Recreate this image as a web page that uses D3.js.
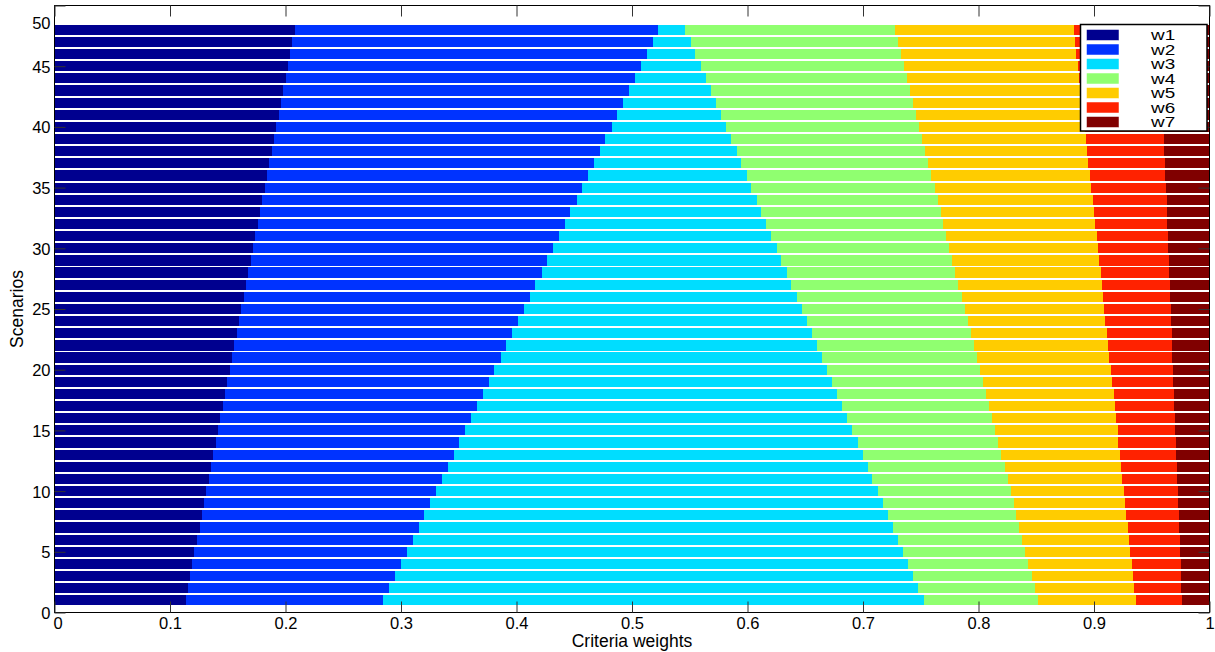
<!DOCTYPE html>
<html>
<head>
<meta charset="utf-8">
<script src="https://cdn.jsdelivr.net/npm/d3@7"></script>
<style>
  html, body { margin: 0; padding: 0; background: #fff; }
  svg { display: block; }
  text { font-family: "Liberation Sans", Arial, Helvetica, sans-serif; fill: #000; }
</style>
</head>
<body>
<svg id="chart" width="1215" height="652"></svg>
<script>
// Criteria weight vectors for scenarios 1..48 (each row sums to 1)
const scenarios = d3.range(1, 49);
const seriesNames = ["w1", "w2", "w3", "w4", "w5", "w6", "w7"];
const seriesColors = ["#00008f", "#0033ff", "#00ddff", "#90ff70", "#ffcc00", "#ff2200", "#800000"];

const w1 = [.1135,.1155,.1175,.1193,.1212,.1236,.1256,.1276,.1296,.1314,.1334,.1354,.1374,.1394,.1418,.1435,.1455,.1476,.1496,.1516,.1539,.1556,.1576,.1597,.1617,.1637,.1657,.1677,.1700,.1718,.1738,.1761,.1781,.1798,.1819,.1842,.1859,.1879,.1902,.1920,.1940,.1960,.1980,.2000,.2021,.2041,.2058,.2081];
const w2 = [.1711,.1745,.1777,.1808,.1841,.1867,.1901,.1927,.1959,.1990,.2022,.2051,.2086,.2109,.2140,.2172,.2204,.2232,.2264,.2290,.2325,.2354,.2386,.2420,.2446,.2481,.2504,.2542,.2565,.2602,.2628,.2660,.2686,.2724,.2749,.2780,.2810,.2845,.2868,.2905,.2931,.2963,.2997,.3026,.3057,.3087,.3122,.3144];
const w3 = [.4679,.4576,.4480,.4388,.4296,.4200,.4105,.4013,.3918,.3826,.3722,.3638,.3540,.3451,.3346,.3257,.3159,.3069,.2971,.2885,.2781,.2692,.2596,.2498,.2406,.2310,.2218,.2123,.2028,.1935,.1840,.1739,.1653,.1558,.1465,.1371,.1278,.1183,.1087,.0992,.0900,.0802,.0707,.0612,.0520,.0420,.0328,.0237];
const w4 = [.0989,.1009,.1027,.1041,.1055,.1075,.1088,.1110,.1133,.1148,.1174,.1183,.1197,.1217,.1238,.1252,.1272,.1287,.1304,.1324,.1341,.1358,.1376,.1393,.1411,.1426,.1445,.1456,.1479,.1489,.1515,.1532,.1552,.1566,.1587,.1598,.1618,.1629,.1656,.1667,.1687,.1707,.1725,.1743,.1757,.1781,.1795,.1814];
const w5 = [.0846,.0862,.0877,.0895,.0909,.0926,.0943,.0952,.0964,.0980,.0989,.1006,.1027,.1041,.1062,.1073,.1088,.1108,.1119,.1128,.1145,.1163,.1177,.1189,.1208,.1223,.1241,.1259,.1270,.1287,.1301,.1315,.1327,.1344,.1356,.1373,.1385,.1405,.1417,.1434,.1449,.1464,.1475,.1491,.1503,.1517,.1534,.1550];
const w6 = [.0400,.0407,.0416,.0427,.0433,.0439,.0441,.0454,.0456,.0465,.0479,.0485,.0490,.0496,.0498,.0509,.0516,.0518,.0533,.0540,.0548,.0552,.0560,.0570,.0576,.0582,.0590,.0595,.0606,.0612,.0617,.0629,.0633,.0638,.0646,.0655,.0664,.0667,.0675,.0683,.0690,.0697,.0705,.0713,.0723,.0731,.0736,.0743];
const w7 = [.0240,.0246,.0248,.0248,.0254,.0257,.0266,.0268,.0274,.0277,.0280,.0283,.0286,.0292,.0298,.0302,.0306,.0310,.0313,.0317,.0321,.0325,.0329,.0333,.0336,.0341,.0345,.0348,.0352,.0357,.0361,.0364,.0368,.0372,.0378,.0381,.0386,.0392,.0395,.0399,.0403,.0407,.0411,.0415,.0419,.0423,.0427,.0431];

const xTicks = [0, 0.1, 0.2, 0.3, 0.4, 0.5, 0.6, 0.7, 0.8, 0.9, 1];
const yTicks = [0, 5, 10, 15, 20, 25, 30, 35, 40, 45, 50];

const seriesValues = [w1, w2, w3, w4, w5, w6, w7];
const rows = scenarios.map((s, i) => {
  const r = { scenario: s };
  seriesNames.forEach((k, j) => { r[k] = seriesValues[j][i]; });
  return r;
});

const svg = d3.select("#chart");
const plotLeft = 54.5, plotRight = 1209.5, plotTop = 5.5, plotBottom = 612.5;

const x = d3.scaleLinear().domain([0, 1]).range([plotLeft, plotRight]);
const y = d3.scaleLinear().domain([0, 50]).range([plotBottom, plotTop]);
const barWidth = 0.84; // in scenario units

const stacked = d3.stack().keys(seriesNames)(rows);

const plot = svg.append("g");
plot.selectAll("g.series")
  .data(stacked)
  .join("g")
  .attr("class", "series")
  .attr("fill", (d, i) => seriesColors[i])
  .selectAll("rect")
  .data(d => d)
  .join("rect")
  .attr("x", d => x(d[0]))
  .attr("width", d => x(d[1]) - x(d[0]))
  .attr("y", d => y(d.data.scenario + barWidth / 2))
  .attr("height", d => y(d.data.scenario - barWidth / 2) - y(d.data.scenario + barWidth / 2))
  .attr("shape-rendering", "crispEdges");

// Axes box with inward ticks on all four sides
const tickLen = 11;
const tickFont = 16.5;
const axes = svg.append("g").attr("stroke", "#000").attr("stroke-width", 1).attr("fill", "none");
axes.append("rect")
  .attr("x", plotLeft).attr("y", plotTop)
  .attr("width", plotRight - plotLeft).attr("height", plotBottom - plotTop);

const xAxisBottom = d3.axisBottom(x).tickValues(xTicks).tickSizeInner(-tickLen).tickSizeOuter(0)
  .tickFormat(d => d === 0 || d === 1 ? d3.format("d")(d) : d3.format(".1f")(d));
const gxb = svg.append("g").attr("transform", `translate(0,${plotBottom})`).call(xAxisBottom);
gxb.select(".domain").remove();
gxb.selectAll("line").attr("stroke", "#333");
gxb.selectAll("text").attr("font-size", tickFont).attr("dy", "0.75em").attr("y", 4.5);
gxb.selectAll(".tick").filter(d => d === 0).select("text").attr("x", 3);

const gxt = svg.append("g").attr("transform", `translate(0,${plotTop})`)
  .call(d3.axisTop(x).tickValues(xTicks).tickSizeInner(-tickLen).tickSizeOuter(0).tickFormat(""));
gxt.select(".domain").remove();
gxt.selectAll("line").attr("stroke", "#333");

const gyl = svg.append("g").attr("transform", `translate(${plotLeft},0)`)
  .call(d3.axisLeft(y).tickValues(yTicks).tickSizeInner(-tickLen).tickSizeOuter(0));
gyl.select(".domain").remove();
gyl.selectAll("line").attr("stroke", "#333");
gyl.selectAll("text").attr("font-size", tickFont).attr("x", -4).attr("dy", "0.36em");
// the top label sits just below the frame edge
gyl.selectAll(".tick").filter(d => d === 50).select("text").attr("dy", "1.4em");

const gyr = svg.append("g").attr("transform", `translate(${plotRight},0)`)
  .call(d3.axisRight(y).tickValues(yTicks).tickSizeInner(-tickLen).tickSizeOuter(0).tickFormat(""));
gyr.select(".domain").remove();
gyr.selectAll("line").attr("stroke", "#333");

// Axis titles
svg.append("text")
  .attr("x", (plotLeft + plotRight) / 2).attr("y", 647)
  .attr("text-anchor", "middle").attr("font-size", 17.5)
  .text("Criteria weights");
svg.append("text")
  .attr("transform", `translate(23,${(plotTop + plotBottom) / 2}) rotate(-90)`)
  .attr("text-anchor", "middle").attr("font-size", 17.5)
  .text("Scenarios");

// Legend
const lg = svg.append("g").attr("transform", "translate(1080.5,24.5)");
lg.append("rect").attr("width", 126.5).attr("height", 106.5)
  .attr("fill", "#fff").attr("stroke", "#000").attr("stroke-width", 1.5);
const item = lg.selectAll("g.item").data(seriesNames).join("g")
  .attr("class", "item")
  .attr("transform", (d, i) => `translate(0,${10.5 + i * 14.5})`);
item.append("rect").attr("x", 6).attr("y", -5.5).attr("width", 32.5).attr("height", 11)
  .attr("fill", (d, i) => seriesColors[i])
  .attr("stroke", "#fff").attr("stroke-width", 0.5);
item.append("text")
  .attr("transform", "translate(70.5,0) scale(1.35,1)")
  .attr("dy", "0.36em").attr("font-size", 14).text(d => d);
</script>
</body>
</html>
